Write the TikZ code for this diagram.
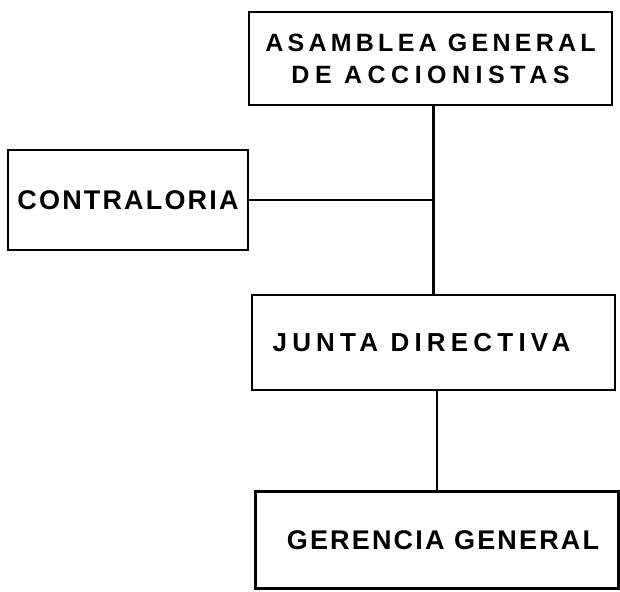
\documentclass[tikz,border=0pt]{standalone}
\usepackage{fontspec}
\setmainfont{Liberation Sans}

\tikzset{
  cargo/.style={draw, line width=2.6pt, minimum width=363pt, inner sep=0pt},
  enlace/.style={line width=2.6pt},
}
\newcommand{\espaciado}[2]{{\addfontfeature{LetterSpace=#1}#2}}

\begin{document}
\begin{tikzpicture}[x=1pt,y=-1pt]
    \useasboundingbox (0,0) rectangle (620,591);
    % Asamblea general
    \node[cargo, minimum height=93pt, align=center, font=\bfseries\fontsize{25}{32}\selectfont] (asamblea) at (430.5,58.5)
        {\espaciado{17}{ASAMBLEA GENERAL}\\\espaciado{22}{DE ACCIONISTAS}};
    % Contraloria
    \node[cargo, minimum width=240pt, minimum height=100pt, font=\bfseries\fontsize{27}{32}\selectfont] (contraloria) at (128,200)
        {\espaciado{8}{CONTRALORIA}};
    % Junta directiva
    \node[cargo, minimum height=95pt, font=\bfseries\fontsize{26}{32}\selectfont] (junta) at (433.5,342.5)
        {\hspace*{-24pt}\espaciado{20}{JUNTA DIRECTIVA}};
    % Gerencia general
    \node[cargo, minimum height=97pt, font=\bfseries\fontsize{27}{32}\selectfont] (gerencia) at (437,540)
        {\hspace*{12pt}\espaciado{8}{GERENCIA GENERAL}};
    % Lineas de mando
    \draw[enlace] (junta.north) -- (junta.north |- asamblea.south);
    \draw[enlace] (contraloria.east) -- (contraloria.east -| junta.north);
    \draw[enlace] (gerencia.north) -- (gerencia.north |- junta.south);
\end{tikzpicture}
\end{document}
